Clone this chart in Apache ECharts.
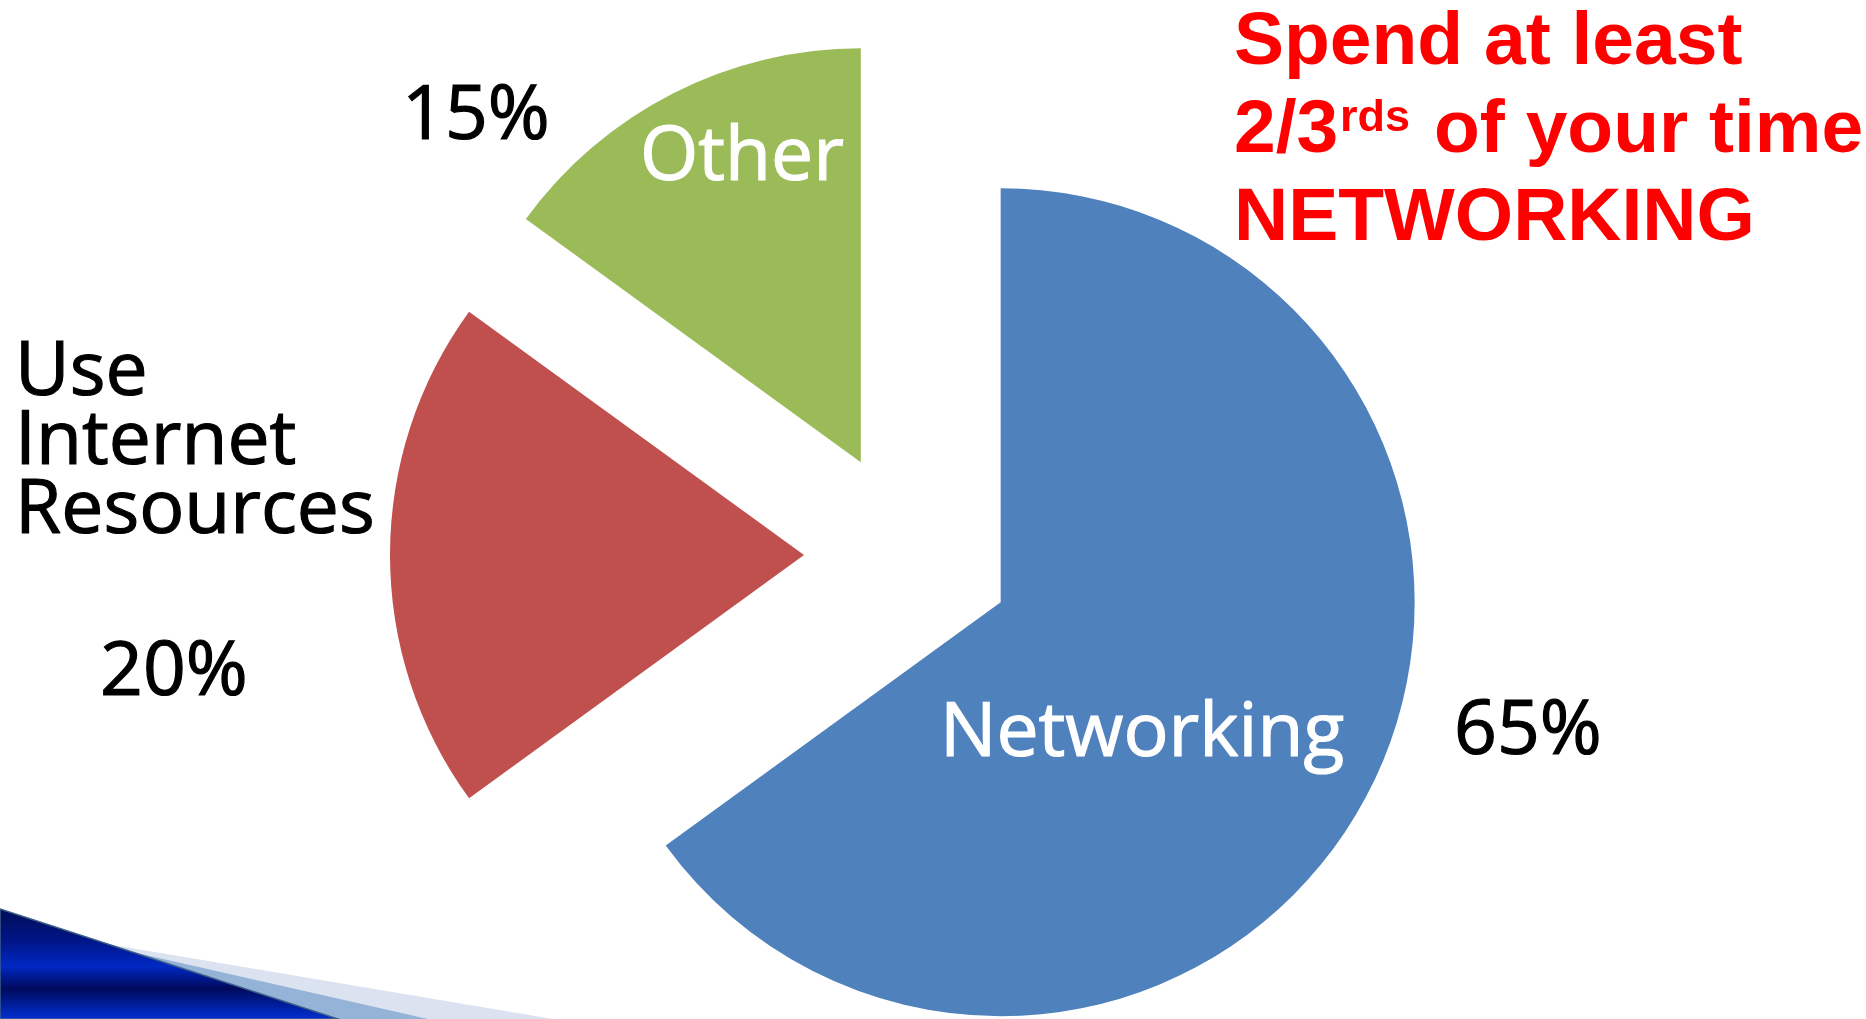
<!DOCTYPE html>
<html>
<head>
<meta charset="utf-8">
<script src="https://cdn.jsdelivr.net/npm/echarts@6/dist/echarts.min.js"></script>
<style>
html,body{margin:0;padding:0;background:#fff;}
#chart{width:1866px;height:1019px;}
</style>
</head>
<body>
<div id="chart"></div>
<script>
// ---- data ----
const categories = ['Networking', 'Use Internet Resources', 'Other'];
const values = [65, 20, 15];
const sliceColors = ['#4F81BD', '#C0504D', '#9BBB59'];
const headline = ['Spend at least', '2/3', 'rds', ' of your time', 'NETWORKING'];

// ---- layout (positions of the annotation texts) ----
const LABEL_FONT = '"Open Sans", "DejaVu Sans", sans-serif';
const nameLayout = [
  { x: 940, y: 735, color: '#ffffff', lh: 69 },
  { x: 15, y: 339, color: '#000000', lh: 69, top: true },
  { x: 640, y: 159, color: '#ffffff', lh: 69 }
];
const pctLayout = [
  { x: 1454, y: 733 },
  { x: 100, y: 674 },
  { x: 402, y: 118 }
];

const chart = echarts.init(document.getElementById('chart'), null, { renderer: 'canvas' });

const graphics = [];

// bottom-left decorative bands
graphics.push({
  type: 'polygon', z: 1, silent: true,
  shape: { points: [[0, 926], [553, 1019], [0, 1019]] },
  style: { fill: '#dbe3f0' }
});
graphics.push({
  type: 'polygon', z: 1, silent: true,
  shape: { points: [[0, 922], [428, 1019], [0, 1019]] },
  style: { fill: '#95b3d7' }
});
graphics.push({
  type: 'polygon', z: 1, silent: true,
  shape: { points: [[0, 909], [338, 1019], [0, 1019]] },
  style: {
    fill: new echarts.graphic.LinearGradient(0, 0, 0, 1, [
      { offset: 0, color: '#000c55' },
      { offset: 0.3, color: '#00168a' },
      { offset: 0.52, color: '#0028c4' },
      { offset: 0.72, color: '#000a5c' },
      { offset: 1, color: '#0030d6' }
    ]),
    stroke: '#3d5f88', lineWidth: 1.5
  }
});

// slice labels
categories.forEach(function (name, i) {
  const L = nameLayout[i];
  const txt = i === 1 ? name.split(' ').join('\n') : name;
  graphics.push({
    type: 'text', z: 10, silent: true,
    style: {
      text: txt, x: L.x, y: L.y,
      font: '75px ' + LABEL_FONT,
      fill: L.color,
      stroke: L.color, lineWidth: 1.2,
      lineHeight: L.lh,
      align: 'left', textAlign: 'left',
      verticalAlign: L.top ? 'top' : 'middle',
      textVerticalAlign: L.top ? 'top' : 'middle'
    }
  });
  const P = pctLayout[i];
  graphics.push({
    type: 'text', z: 10, silent: true,
    style: {
      text: values[i] + '%', x: P.x, y: P.y,
      font: '75px ' + LABEL_FONT,
      fill: '#000000',
      stroke: '#000000', lineWidth: 1.2,
      align: 'left', textAlign: 'left',
      verticalAlign: 'middle', textVerticalAlign: 'middle'
    }
  });
});

// red headline
const RED_FONT = 'bold 75px "Liberation Sans", Arial, sans-serif';
const redTexts = [
  { t: headline[0], x: 1234, y: 43, font: RED_FONT },
  { t: headline[1], x: 1234, y: 131, font: RED_FONT },
  { t: headline[2], x: 1340, y: 119, font: 'bold 45px "Liberation Sans", Arial, sans-serif' },
  { t: headline[3].trim(), x: 1434, y: 131, font: RED_FONT },
  { t: headline[4], x: 1234, y: 219, font: RED_FONT }
];
redTexts.forEach(function (r) {
  graphics.push({
    type: 'text', z: 10, silent: true,
    style: {
      text: r.t, x: r.x, y: r.y, font: r.font, fill: '#ff0000',
      align: 'left', textAlign: 'left',
      verticalAlign: 'middle', textVerticalAlign: 'middle'
    }
  });
});

chart.setOption({
  animation: false,
  backgroundColor: '#ffffff',
  graphic: graphics,
  series: [{
    type: 'pie',
    center: [908, 555],
    radius: 414,
    startAngle: 90,
    clockwise: true,
    silent: true,
    selectedMode: 'multiple',
    selectedOffset: 104,
    label: { show: false },
    labelLine: { show: false },
    emphasis: { disabled: true, scale: false },
    itemStyle: { borderWidth: 0 },
    data: categories.map(function (c, i) {
      return { name: c, value: values[i], selected: true, itemStyle: { color: sliceColors[i] } };
    })
  }]
});
</script>
</body>
</html>
